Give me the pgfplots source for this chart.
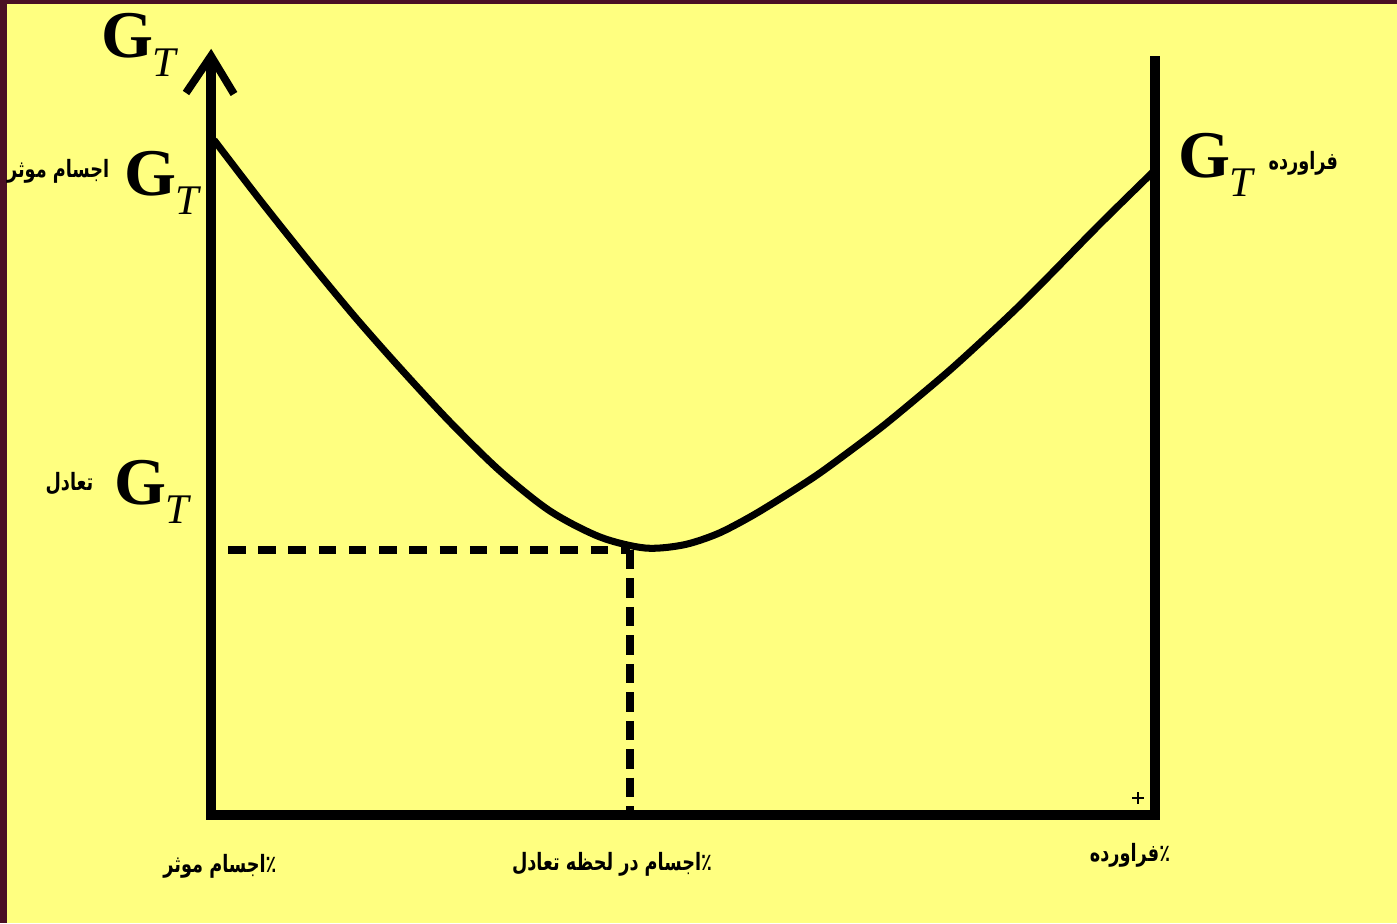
\documentclass[border=0pt]{standalone}
\usepackage{fontspec}
\setmainfont{Liberation Serif}
\newfontfamily\arabicfont[Script=Arabic, FakeStretch=0.74]{DejaVu Sans}
\TeXXeTstate=1
\usepackage{pgfplots}
\pgfplotsset{compat=1.18}
\definecolor{paper}{RGB}{255,255,128}
\definecolor{frame}{RGB}{74,16,36}

% pixel coordinates of the 1397x923 reference, y measured downwards
\newcommand{\GT}{\textbf{G}\kern-0.02em\raisebox{-0.6ex}{\fontsize{12}{12}\selectfont\textit{T}}}
\newcommand{\fa}[1]{{\arabicfont\fontsize{6.8}{8}\selectfont\bfseries\beginR #1\endR}}

\begin{document}
\begin{tikzpicture}
\begin{axis}[
    scale only axis,
    width=13.97cm, height=9.23cm,
    xmin=0, xmax=1397, ymin=-923, ymax=0,
    axis lines=none,
    clip=false,
    axis background/.style={fill=paper},
]
% frame strips
\addplot[fill=frame, draw=none] coordinates {(0,0) (7,0) (7,-923) (0,-923)} -- cycle;
\addplot[fill=frame, draw=none] coordinates {(0,0) (1397,0) (1397,-4) (0,-4)} -- cycle;

% axes
\addplot[black, line width=2.6pt] coordinates {(211,-815) (211,-58)};
\addplot[black, line width=2.2pt] coordinates {(186,-93) (211,-56) (234,-94)};
\addplot[black, line width=2.6pt] coordinates {(206,-815) (1160,-815)};
\addplot[black, line width=2.6pt] coordinates {(1155,-815) (1155,-56)};

% curve
\addplot[black, line width=2.0pt, smooth] coordinates {
(214,-140) (260,-200) (307,-259) (355,-317) (400,-368) (450,-422)
(500,-471) (550,-511) (600,-537) (645,-548) (683,-545) (717,-534)
(750,-517) (783,-497) (817,-475) (850,-451) (883,-426) (917,-398)
(950,-370) (983,-340) (1017,-308) (1050,-275) (1100,-224) (1155,-170)
};

% dashed guides
\addplot[black, line width=2.2pt, dash pattern=on 5pt off 3.6pt] coordinates {(228,-550) (630,-550)};
\addplot[black, line width=2.2pt, dash pattern=on 5.5pt off 2.6pt] coordinates {(630,-550) (630,-815)};

% small plus mark
\addplot[black, only marks, mark=+, mark size=1.6pt, line width=0.8pt] coordinates {(1138,-798)};

% labels
\node[font=\fontsize{19}{19}\selectfont] at (axis cs:140,-45) {\GT};
\node[font=\fontsize{19}{19}\selectfont] at (axis cs:163,-183) {\GT};
\node[font=\fontsize{19}{19}\selectfont] at (axis cs:153,-492) {\GT};
\node[font=\fontsize{19}{19}\selectfont] at (axis cs:1217,-165) {\GT};

\node[anchor=east, inner sep=0pt] at (axis cs:110,-171) {\fa{اجسام موثر}};
\node[anchor=east, inner sep=0pt] at (axis cs:94,-484) {\fa{تعادل}};
\node[anchor=west, inner sep=0pt] at (axis cs:1268,-163) {\fa{فراورده}};

\node at (axis cs:220,-866) {\fa{٪اجسام موثر}};
\node at (axis cs:612,-864) {\fa{٪اجسام در لحظه تعادل}};
\node at (axis cs:1130,-855) {\fa{٪فراورده}};
\end{axis}
\pgfresetboundingbox
\path (current axis.south west) rectangle (current axis.north east);
\end{tikzpicture}
\end{document}
